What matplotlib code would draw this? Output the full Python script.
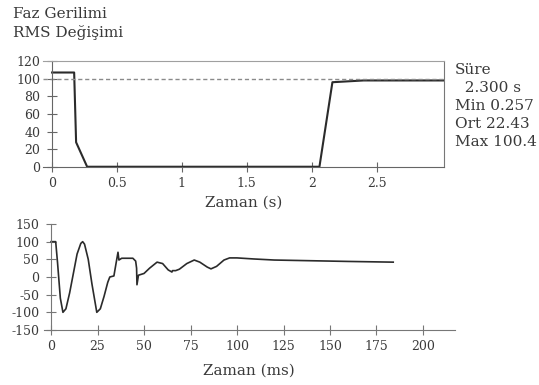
import matplotlib
matplotlib.use("Agg")
import matplotlib.pyplot as plt

plt.rcParams["font.family"] = ["DejaVu Serif"]
plt.rcParams["axes.unicode_minus"] = False

# ---------------------------
# RMS voltage (top panel)
# ---------------------------
t_rms = [0, 0.17, 0.185, 0.27, 2.06, 2.16, 2.4, 3.02]
v_rms = [107, 107, 28, 0.3, 0.3, 96, 98, 98]
nominal = 100

rms_xticks = [0, 0.5, 1, 1.5, 2, 2.5]
rms_xlabels = ["0", "0.5", "1", "1.5", "2", "2.5"]
rms_yticks = [0, 20, 40, 60, 80, 100, 120]

stats = ["Süre", "  2.300 s", "Min 0.257", "Ort 22.43", "Max 100.4"]

# ---------------------------
# Phase voltage waveform (bottom panel)
# ---------------------------
t_wave = [0, 2.5, 3.5, 5, 6.4, 8, 10, 12, 14, 16, 17, 18, 20, 22, 24.6,
          26.5, 28.5, 30.5, 31.6, 33.8, 35, 36, 36.5, 38, 44, 45.5, 46, 46.2,
          47, 50, 53, 57, 60, 63, 65, 65.3, 67, 69, 73, 77, 80, 84, 86, 89,
          93, 96, 100, 109, 120, 140, 160, 184]
v_wave = [100, 100, 40, -60, -100, -90, -45, 10, 65, 95, 100, 93, 50, -20, -100,
          -90, -55, -15, 0, 3, 40, 70, 48, 53, 53, 45, 25, -22,
          5, 10, 25, 42, 38, 20, 14, 18, 18, 22, 38, 48, 42, 28, 23, 30,
          48, 54, 54, 51, 48, 46, 44, 42]

wave_xticks = [0, 25, 50, 75, 100, 125, 150, 175, 200]
wave_yticks = [-150, -100, -50, 0, 50, 100, 150]

ink = "#2b2b2b"
txt = "#3a3a3a"

fig = plt.figure(figsize=(5.39, 3.85), dpi=100)
fig.patch.set_facecolor("white")

fig.text(0.024, 0.964, "Faz Gerilimi", fontsize=11, color=txt, va="center")
fig.text(0.024, 0.915, "RMS Değişimi", fontsize=11, color=txt, va="center")

# top panel
ax1 = fig.add_axes([0.0798, 0.5662, 0.744, 0.2753])
ax1.plot(t_rms, v_rms, color=ink, lw=1.5)
ax1.axhline(nominal, color="#8a8a8a", lw=1.0, ls=(0, (3, 2)))
ax1.set_xlim(-0.07, 3.02)
ax1.set_ylim(0, 120)
ax1.spines["left"].set_position(("data", 0))
ax1.spines["top"].set_color("#a0a0a0")
ax1.spines["right"].set_color("#777777")
ax1.spines["bottom"].set_color("#666666")
ax1.spines["left"].set_color("#666666")
ax1.set_xticks(rms_xticks)
ax1.set_xticklabels(rms_xlabels)
ax1.set_yticks(rms_yticks)
ax1.tick_params(direction="inout", length=7, width=0.8, colors="#666666",
                labelcolor=txt, labelsize=9)
ax1.tick_params(axis="y", pad=5)
ax1.set_xlabel("Zaman (s)", fontsize=11, color=txt, labelpad=4)
for i, s in enumerate(stats):
    fig.text(0.844, 0.818 - i * 0.0465, s, fontsize=11, color=txt, va="center")

# bottom panel
ax2 = fig.add_axes([0.0809, 0.1429, 0.7625, 0.2753])
ax2.plot(t_wave, v_wave, color=ink, lw=1.2)
ax2.set_xlim(-4, 217)
ax2.set_ylim(-150, 150)
ax2.spines["left"].set_position(("data", 0))
ax2.spines["top"].set_visible(False)
ax2.spines["right"].set_visible(False)
ax2.spines["bottom"].set_color("#777777")
ax2.spines["left"].set_color("#777777")
ax2.set_xticks(wave_xticks)
ax2.set_yticks(wave_yticks)
ax2.tick_params(direction="inout", length=7, width=0.8, colors="#777777",
                labelcolor=txt, labelsize=9)
ax2.tick_params(axis="y", pad=5)
ax2.set_xlabel("Zaman (ms)", fontsize=11, color=txt, labelpad=8)

fig.savefig("out.png", dpi=100, facecolor="white")
